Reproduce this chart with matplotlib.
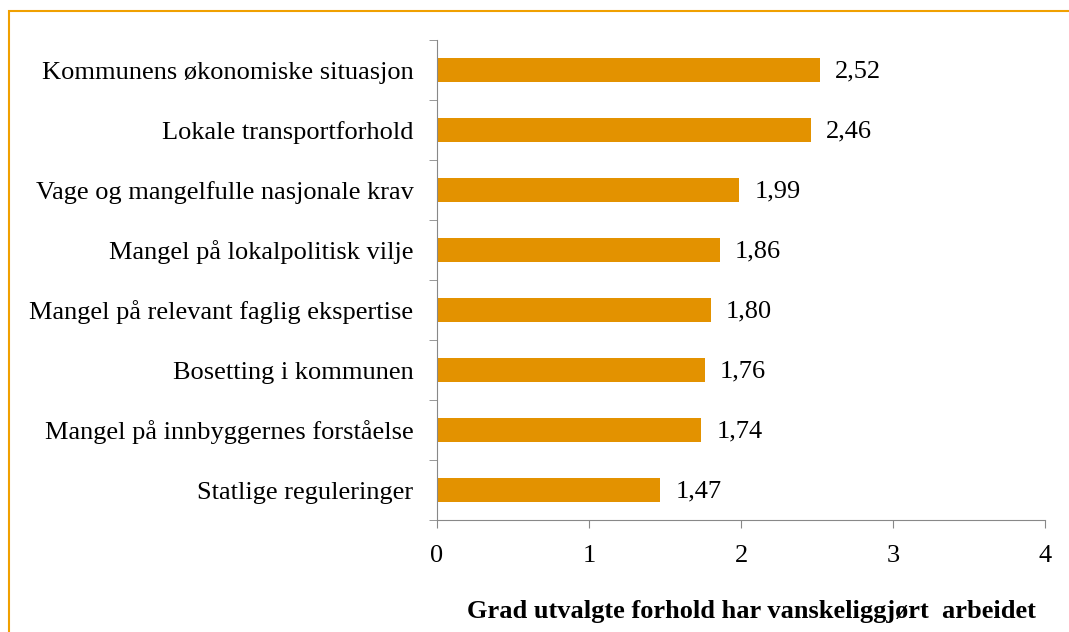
import matplotlib.pyplot as plt
from matplotlib.patches import Rectangle
from matplotlib.ticker import FixedLocator, NullFormatter

categories = [
    'Kommunens økonomiske situasjon',
    'Lokale transportforhold',
    'Vage og mangelfulle nasjonale krav',
    'Mangel på lokalpolitisk vilje',
    'Mangel på relevant faglig ekspertise',
    'Bosetting i kommunen',
    'Mangel på innbyggernes forståelse',
    'Statlige reguleringer',
]
values = [2.52, 2.46, 1.99, 1.86, 1.80, 1.76, 1.74, 1.47]
value_labels = ['2,52', '2,46', '1,99', '1,86', '1,80', '1,76', '1,74', '1,47']
x_ticks = [0, 1, 2, 3, 4]

plt.rcParams['font.family'] = ['Liberation Serif', 'DejaVu Serif']

fig = plt.figure(figsize=(10.69, 6.32), dpi=100)
# orange frame around the whole chart (right/bottom edges fall outside the picture)
fig.patches.append(Rectangle((9 / 1069, -0.1), 1.2, 1.1 - 11 / 632,
                             transform=fig.transFigure, fill=False,
                             edgecolor='#F0A000', linewidth=1.5, zorder=0))
ax = fig.add_axes([437 / 1069, 1 - 520 / 632, 608 / 1069, 480 / 632])

y = list(range(len(categories)))
ax.barh(y, values, height=0.4, color='#E39200')
ax.set_ylim(len(categories) - 0.5, -0.5)
ax.set_xlim(0, 4)

for yi, v, lab in zip(y, values, value_labels):
    ax.text(v + 0.1, yi + 0.03, lab, va='center', ha='left', fontsize=19)

ax.set_yticks(y)
ax.set_yticklabels(categories, fontsize=19)
ax.tick_params(axis='y', length=0, pad=17)
ax.yaxis.set_minor_locator(FixedLocator([i - 0.5 for i in range(len(categories) + 1)]))
ax.yaxis.set_minor_formatter(NullFormatter())
ax.tick_params(axis='y', which='minor', length=6, color='#888888', direction='out')

ax.set_xticks(x_ticks)
ax.set_xticklabels([str(t) for t in x_ticks], fontsize=19)
ax.tick_params(axis='x', length=6, color='#888888', pad=12)

for side in ['top', 'right']:
    ax.spines[side].set_visible(False)
for side in ['left', 'bottom']:
    ax.spines[side].set_color('#888888')

ax.set_xlabel('Grad utvalgte forhold har vanskeliggjørt  arbeidet',
              fontsize=19, fontweight='bold', labelpad=24, x=0.517)

fig.savefig('out.png', dpi=100)
